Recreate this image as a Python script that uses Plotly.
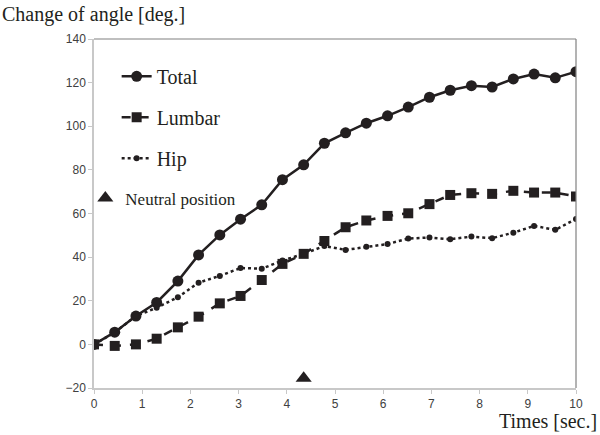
import plotly.graph_objects as go

# time axis (24 samples over 10 sec)
times = [0, 0.43, 0.87, 1.3, 1.74, 2.17, 2.61, 3.04, 3.48, 3.91, 4.35, 4.78,
         5.22, 5.65, 6.09, 6.52, 6.96, 7.39, 7.83, 8.26, 8.7, 9.13, 9.57, 10]

total = [0, 5.6, 13, 19.2, 29, 41, 50.2, 57.4, 64, 75.5, 82.3, 92.2,
         97, 101.4, 104.8, 108.8, 113.3, 116.5, 118.6, 118, 121.7, 123.9, 122.2, 125]
lumbar = [0, -0.7, 0, 2.6, 7.8, 12.7, 18.8, 22.2, 29.5, 36.9, 41.5, 47.4,
          53.7, 56.8, 58.9, 60.1, 64.3, 68.5, 69.3, 69, 70.4, 69.6, 69.6, 67.8]
hip = [0, 5.5, 13, 16.8, 21.6, 28.3, 31.4, 35, 34.7, 38.4, 41.5, 45.1,
       43.3, 44.8, 46, 48.5, 49, 48.2, 49.4, 48.7, 51.2, 54.3, 52.5, 57.5]

neutral_x = [4.35]
neutral_y = [-15.5]

y_ticks = [-20, 0, 20, 40, 60, 80, 100, 120, 140]
y_labels = ["\u221220", "0", "20", "40", "60", "80", "100", "120", "140"]
x_ticks = list(range(0, 11))

ink = "#231f20"
serif = "Liberation Serif"

fig = go.Figure()
fig.add_trace(go.Scatter(
    x=times, y=total, name="Total", mode="lines+markers", legendgroup="a",
    line=dict(color=ink, width=2.5), marker=dict(symbol="circle", size=11, color=ink)))
fig.add_trace(go.Scatter(
    x=times, y=lumbar, name="Lumbar", mode="lines+markers", legendgroup="b",
    line=dict(color=ink, width=2.5, dash="dash"), marker=dict(symbol="square", size=10, color=ink)))
fig.add_trace(go.Scatter(
    x=times, y=hip, name="Hip", mode="lines+markers", legendgroup="c",
    line=dict(color=ink, width=2.5, dash="dot"), marker=dict(symbol="circle", size=6, color=ink)))
fig.add_trace(go.Scatter(
    x=neutral_x, y=neutral_y, name="Neutral position", mode="markers", legend="legend2",
    marker=dict(symbol="triangle-up", size=14, color=ink)))

fig.update_layout(
    width=600, height=435,
    margin=dict(l=94, r=24, t=39, b=47),
    plot_bgcolor="white", paper_bgcolor="white",
    font=dict(family="Liberation Sans", size=12, color="#404040"),
    legend=dict(x=0.047, y=0.949, xanchor="left", yanchor="top",
                font=dict(family=serif, size=20, color=ink),
                tracegroupgap=12, bgcolor="rgba(0,0,0,0)"),
    legend2=dict(x=-0.018, y=0.543, xanchor="left", yanchor="middle",
                 font=dict(family=serif, size=17, color=ink),
                 bgcolor="rgba(0,0,0,0)"),
    xaxis=dict(range=[0, 10], tickvals=x_ticks, showgrid=False, zeroline=False,
               showline=True, linecolor="#c8c8c8", linewidth=1.5,
               ticks="outside", ticklen=4, tickcolor="#c8c8c8"),
    yaxis=dict(range=[-20, 140], tickvals=y_ticks, ticktext=y_labels, showgrid=False,
               zeroline=False, showline=True, linecolor="#c8c8c8", linewidth=1.5,
               ticks="outside", ticklen=4, tickcolor="#c8c8c8"),
    shapes=[
        dict(type="line", xref="paper", yref="paper", x0=0, x1=1, y0=1, y1=1,
             line=dict(color="#808080", width=1.2)),
        dict(type="line", xref="paper", yref="paper", x0=1, x1=1, y0=0, y1=1,
             line=dict(color="#808080", width=1.2)),
    ],
    annotations=[
        dict(text="Change of angle [deg.]", xref="paper", yref="paper",
             x=-94 / 482, y=1.0, yshift=38, xanchor="left", yanchor="top",
             showarrow=False, font=dict(family=serif, size=20, color=ink)),
        dict(text="Times [sec.]", xref="paper", yref="paper",
             x=1.0, xshift=23, y=0, yshift=-46, xanchor="right", yanchor="bottom",
             showarrow=False, font=dict(family=serif, size=20, color=ink)),
    ],
)

# page has a default 8px body margin; drop it so the figure fills the window
fig.write_html("out.html", config={"displayModeBar": False},
               post_script="document.body.style.margin='0';")
